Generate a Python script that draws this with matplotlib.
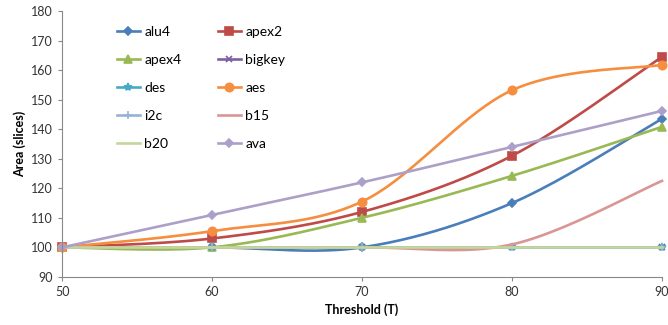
import numpy as np
import matplotlib.pyplot as plt

# ---------------------------------------------------------
# Data
# ---------------------------------------------------------
thresholds = [50, 60, 70, 80, 90]

names = ["alu4", "apex2", "apex4", "bigkey", "des", "aes", "i2c", "b15", "b20", "ava"]
alu4 = [100, 100, 100, 115, 143.5]
apex2 = [100, 103, 112, 131, 164.5]
apex4 = [100, 100, 110, 124.2, 140.8]
bigkey = [100, 100, 100, 100, 100]
des = [100, 100, 100, 100, 100]
aes = [100, 105.5, 115.5, 153.2, 161.8]
i2c = [100, 100, 100, 100, 100]
b15 = [100, 100, 100, 101, 122.5]
b20 = [100, 100, 100, 100, 100]
ava = [100, 111, 122, 134, 146.2]
series = [alu4, apex2, apex4, bigkey, des, aes, i2c, b15, b20, ava]

colors = ["#4A7EBB", "#BE4B48", "#98B954", "#7D60A0", "#46AAC5",
          "#F68E3F", "#95B3D7", "#D99694", "#C3D69B", "#ADA0C8"]
markers = ["D", "s", "^", "x", "*", "o", "+", None, None, "D"]
msizes = [4.5, 6, 6, 5, 6, 6, 6, 0, 0, 4.5]


def smooth(x, y, n=40):
    # Excel-style smoothed line: cubic Bezier with Catmull-Rom handles
    x = np.asarray(x, float)
    y = np.asarray(y, float)
    px = np.concatenate([[x[0]], x, [x[-1]]])
    py = np.concatenate([[y[0]], y, [y[-1]]])
    t = np.linspace(0, 1, n)
    xs, ys = [], []
    for i in range(len(x) - 1):
        p0 = np.array([px[i + 1], py[i + 1]])
        p3 = np.array([px[i + 2], py[i + 2]])
        p1 = p0 + (p3 - np.array([px[i], py[i]])) / 6
        p2 = p3 - (np.array([px[i + 3], py[i + 3]]) - p0) / 6
        b = ((1 - t) ** 3)[:, None] * p0 + (3 * (1 - t) ** 2 * t)[:, None] * p1 \
            + (3 * (1 - t) * t ** 2)[:, None] * p2 + (t ** 3)[:, None] * p3
        xs.append(b[:, 0])
        ys.append(b[:, 1])
    return np.concatenate(xs), np.concatenate(ys)


plt.rcParams["font.family"] = ["Lato", "DejaVu Sans"]

fig = plt.figure(figsize=(6.68, 3.25), dpi=100)
ax = fig.add_axes([0.093, 0.148, 0.898, 0.818])

for name, vals, c, m, ms in zip(names, series, colors, markers, msizes):
    sx, sy = smooth(thresholds, vals)
    ax.plot(sx, sy, color=c, lw=1.9, clip_on=False)
    if m is not None:
        ax.plot(thresholds, vals, linestyle="none", marker=m, color=c,
                markersize=ms, markeredgewidth=1.2, clip_on=False)
    ax.plot([], [], color=c, lw=1.9, marker=m, markersize=ms,
            markeredgewidth=1.2, label=name)

ax.set_xlim(50, 90)
ax.set_ylim(90, 180)
ax.set_xticks(thresholds)
ax.set_yticks(range(90, 181, 10))
ax.tick_params(labelsize=9, colors="#333333", length=3, color="#888888")
for s in ["top", "right"]:
    ax.spines[s].set_visible(False)
for s in ["left", "bottom"]:
    ax.spines[s].set_color("#888888")

ax.set_xlabel("Threshold (T)", fontsize=9, fontweight="bold")
ax.set_ylabel("Area (slices)", fontsize=9, fontweight="bold")

# legend fills column-wise, so reorder to read row by row like the original
handles, labels = ax.get_legend_handles_labels()
order = list(range(0, 10, 2)) + list(range(1, 10, 2))
ax.legend([handles[i] for i in order], [labels[i] for i in order], ncol=2,
          frameon=False, fontsize=10, loc="upper left",
          bbox_to_anchor=(0.07, 0.99), handlelength=1.7, handletextpad=0.3,
          columnspacing=2.6, labelspacing=1.15)

fig.savefig("out.png", dpi=100)
